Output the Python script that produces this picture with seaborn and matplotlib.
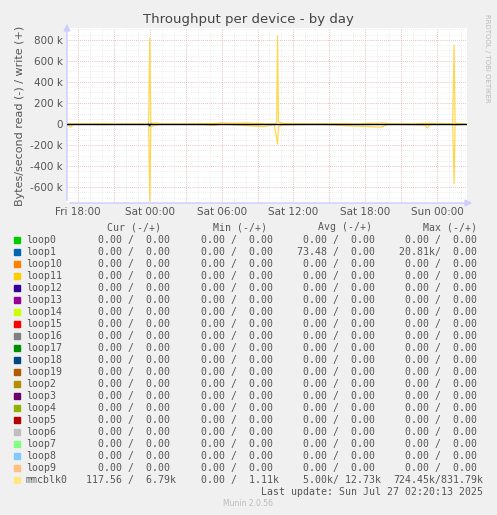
import matplotlib
matplotlib.use("Agg")
import matplotlib.pyplot as plt
import seaborn as sns
import pandas as pd
import numpy as np

# ---- data (hours since Fri 00:00, values in bytes/s) ----
mmc_write_t = [17.1, 17.4, 17.6, 18.5, 20.4, 21.0, 22.3, 23.9, 24.0, 24.08, 24.2, 24.5, 24.9, 25.2, 27.0, 29.6, 30.0, 30.3, 31.0, 32.0, 33.0, 34.4, 34.6, 34.67, 34.75, 35.0, 35.4, 36.3, 38.5, 39.8, 41.5, 42.2, 43.0, 43.4, 44.0, 46.0, 47.0, 48.3, 49.3, 49.42, 49.5, 49.8, 50.4]
mmc_write_v = [0, 3e3, 0, 2e3, 4e3, 0, 2e3, 0, 820e3, 15e3, 8e3, 10e3, 5e3, 0, 3e3, 5e3, 12e3, 10e3, 8e3, 10e3, 6e3, 0, 10e3, 840e3, 20e3, 10e3, 5e3, 4e3, 2e3, 3e3, 0, 8e3, 6e3, 12e3, 3e3, 0, 8e3, 5e3, 0, 750e3, 10e3, 5e3, 0]
mmc_read_t = [17.1, 17.4, 17.6, 20.0, 23.9, 24.0, 24.08, 24.2, 24.5, 25.0, 28.5, 29.3, 30.0, 33.5, 34.4, 34.67, 34.75, 35.0, 38.0, 40.2, 43.3, 44.0, 47.0, 47.2, 47.4, 49.3, 49.42, 49.5, 50.4]
mmc_read_v = [0, -30e3, 0, -5e3, 0, -730e3, -30e3, -20e3, -10e3, 0, -5e3, -15e3, 0, -25e3, -5e3, -190e3, -30e3, -10e3, 0, -15e3, -30e3, 0, -10e3, -40e3, 0, 0, -570e3, -10e3, 0]
loop1_read_t = [23.9, 24.0, 24.1]
loop1_read_v = [0, -20e3, 0]

names = ["loop0", "loop1", "loop10", "loop11", "loop12", "loop13", "loop14", "loop15", "loop16", "loop17",
         "loop18", "loop19", "loop2", "loop3", "loop4", "loop5", "loop6", "loop7", "loop8", "loop9", "mmcblk0"]
colors = ["#00CC00", "#0066B3", "#FF8000", "#FFCC00", "#330099", "#990099", "#CCFF00", "#FF0000", "#808080", "#008F00",
          "#00487D", "#B35A00", "#B38F00", "#6B006B", "#8FB300", "#B30000", "#BEBEBE", "#80FF80", "#80C9FF", "#FFC080", "#FFE680"]
cur = ["0.00 /  0.00 "] * 20 + ["117.56 /  6.79k"]
mins = ["0.00 /  0.00 "] * 20 + ["0.00 /  1.11k"]
avg = ["0.00 /  0.00 ", "73.48 /  0.00 "] + ["0.00 /  0.00 "] * 18 + ["5.00k/ 12.73k"]
mx = ["0.00 /  0.00 ", "20.81k/  0.00 "] + ["0.00 /  0.00 "] * 18 + ["724.45k/831.79k"]

xticks = [18, 24, 30, 36, 42, 48]
xticklabels = ["Fri 18:00", "Sat 00:00", "Sat 06:00", "Sat 12:00", "Sat 18:00", "Sun 00:00"]
yticks = [-600e3, -400e3, -200e3, 0, 200e3, 400e3, 600e3, 800e3]
yticklabels = ["-600 k", "-400 k", "-200 k", "0", "200 k", "400 k", "600 k", "800 k"]

W, H = 497, 515
fig = plt.figure(figsize=(W / 100, H / 100), dpi=100, facecolor="#F0F0F0")
sns.set_style("white")
plt.rcParams["font.family"] = ["DejaVu Sans"]
ax = fig.add_axes([67 / W, 1 - 203 / H, 400 / W, 175 / H])
ax.set_facecolor("white")

xlim = (18 - 11 / 12, 50.5)
ylim = (-752e3, 914e3)
for h in np.arange(18, 51, 1.0):
    ax.axvline(h, color="#DDDDDD", lw=0.5, ls=(0, (1, 2)), zorder=0)
for v in np.arange(-750e3, 914e3, 50e3):
    ax.axhline(v, color="#DDDDDD", lw=0.5, ls=(0, (1, 2)), zorder=0)
for h in np.arange(18, 51, 3.0):
    ax.axvline(h, color="#E8A0A0", lw=0.5, ls=(0, (1, 2)), zorder=0)
for v in yticks:
    ax.axhline(v, color="#E8A0A0", lw=0.5, ls=(0, (1, 2)), zorder=0)

df = pd.concat([
    pd.DataFrame({"t": mmc_write_t, "v": mmc_write_v, "s": "mmcblk0 w"}),
    pd.DataFrame({"t": mmc_read_t, "v": mmc_read_v, "s": "mmcblk0 r"}),
    pd.DataFrame({"t": loop1_read_t, "v": loop1_read_v, "s": "loop1 r"}),
])
sns.lineplot(data=df, x="t", y="v", hue="s",
             palette={"mmcblk0 w": "#FFD84A", "mmcblk0 r": "#FFD84A", "loop1 r": "#0066B3"},
             lw=0.9, legend=False, ax=ax, estimator=None, sort=True)
ax.axhline(0, color="black", lw=1, zorder=5)

ax.set_xlim(*xlim)
ax.set_ylim(*ylim)
ax.set_xticks(xticks)
ax.set_xticklabels(xticklabels)
ax.set_yticks(yticks)
ax.set_yticklabels(yticklabels)
ax.tick_params(labelsize=7.5, colors="#555555", length=0, pad=3)
ax.set_xlabel("")
ax.set_ylabel("Bytes/second read (-) / write (+)", fontsize=8, color="#555555", labelpad=4)
for s in ax.spines.values():
    s.set_visible(False)
ax.annotate("", xy=(1.02, 0), xycoords="axes fraction", xytext=(0, 0),
            arrowprops=dict(arrowstyle="-|>", color="#CCCCFF", lw=1))
ax.annotate("", xy=(0, 1.04), xycoords="axes fraction", xytext=(0, 0),
            arrowprops=dict(arrowstyle="-|>", color="#CCCCFF", lw=1))

fig.text(0.5, 1 - 20 / H, "Throughput per device - by day", ha="center", va="center", fontsize=9.5, color="#444444")
fig.text(487 / W, 1 - 58 / H, "RRDTOOL / TOBI OETIKER", rotation=270, ha="center", va="center", fontsize=5, color="#BBBBBB")

mono = "DejaVu Sans Mono"
fs = 7.1
tc = "#555555"
hy = 1 - 227 / H
for x, t in [(107, "Cur (-/+)"), (213, "Min (-/+)"), (318, "Avg (-/+)"), (423, "Max (-/+)")]:
    fig.text(x / W, hy, t, family=mono, fontsize=fs, color=tc, va="center")

def cell(x_end, s):
    fig.text(x_end / W, y, s, family=mono, fontsize=fs, color=tc, va="center", ha="right")

for i, n in enumerate(names):
    ypx = 239.7 + 12 * i
    y = 1 - ypx / H
    fig.patches.append(plt.Rectangle((14 / W, 1 - (ypx + 3) / H), 6 / W, 6 / H,
                                     transform=fig.transFigure, color=colors[i], figure=fig))
    fig.text(26 / W, y, n, family=mono, fontsize=fs, color=tc, va="center")
    cell(176, cur[i])
    cell(279, mins[i])
    cell(381, avg[i])
    cell(483, mx[i])

fig.text(483 / W, 1 - 491.7 / H, "Last update: Sun Jul 27 02:20:13 2025", family=mono, fontsize=fs,
         color=tc, ha="right", va="center")
fig.text(248 / W, 1 - 503 / H, "Munin 2.0.56", fontsize=5.5, color="#BBBBBB", ha="center", va="center")

fig.savefig("out.png", dpi=100, facecolor=fig.get_facecolor())
